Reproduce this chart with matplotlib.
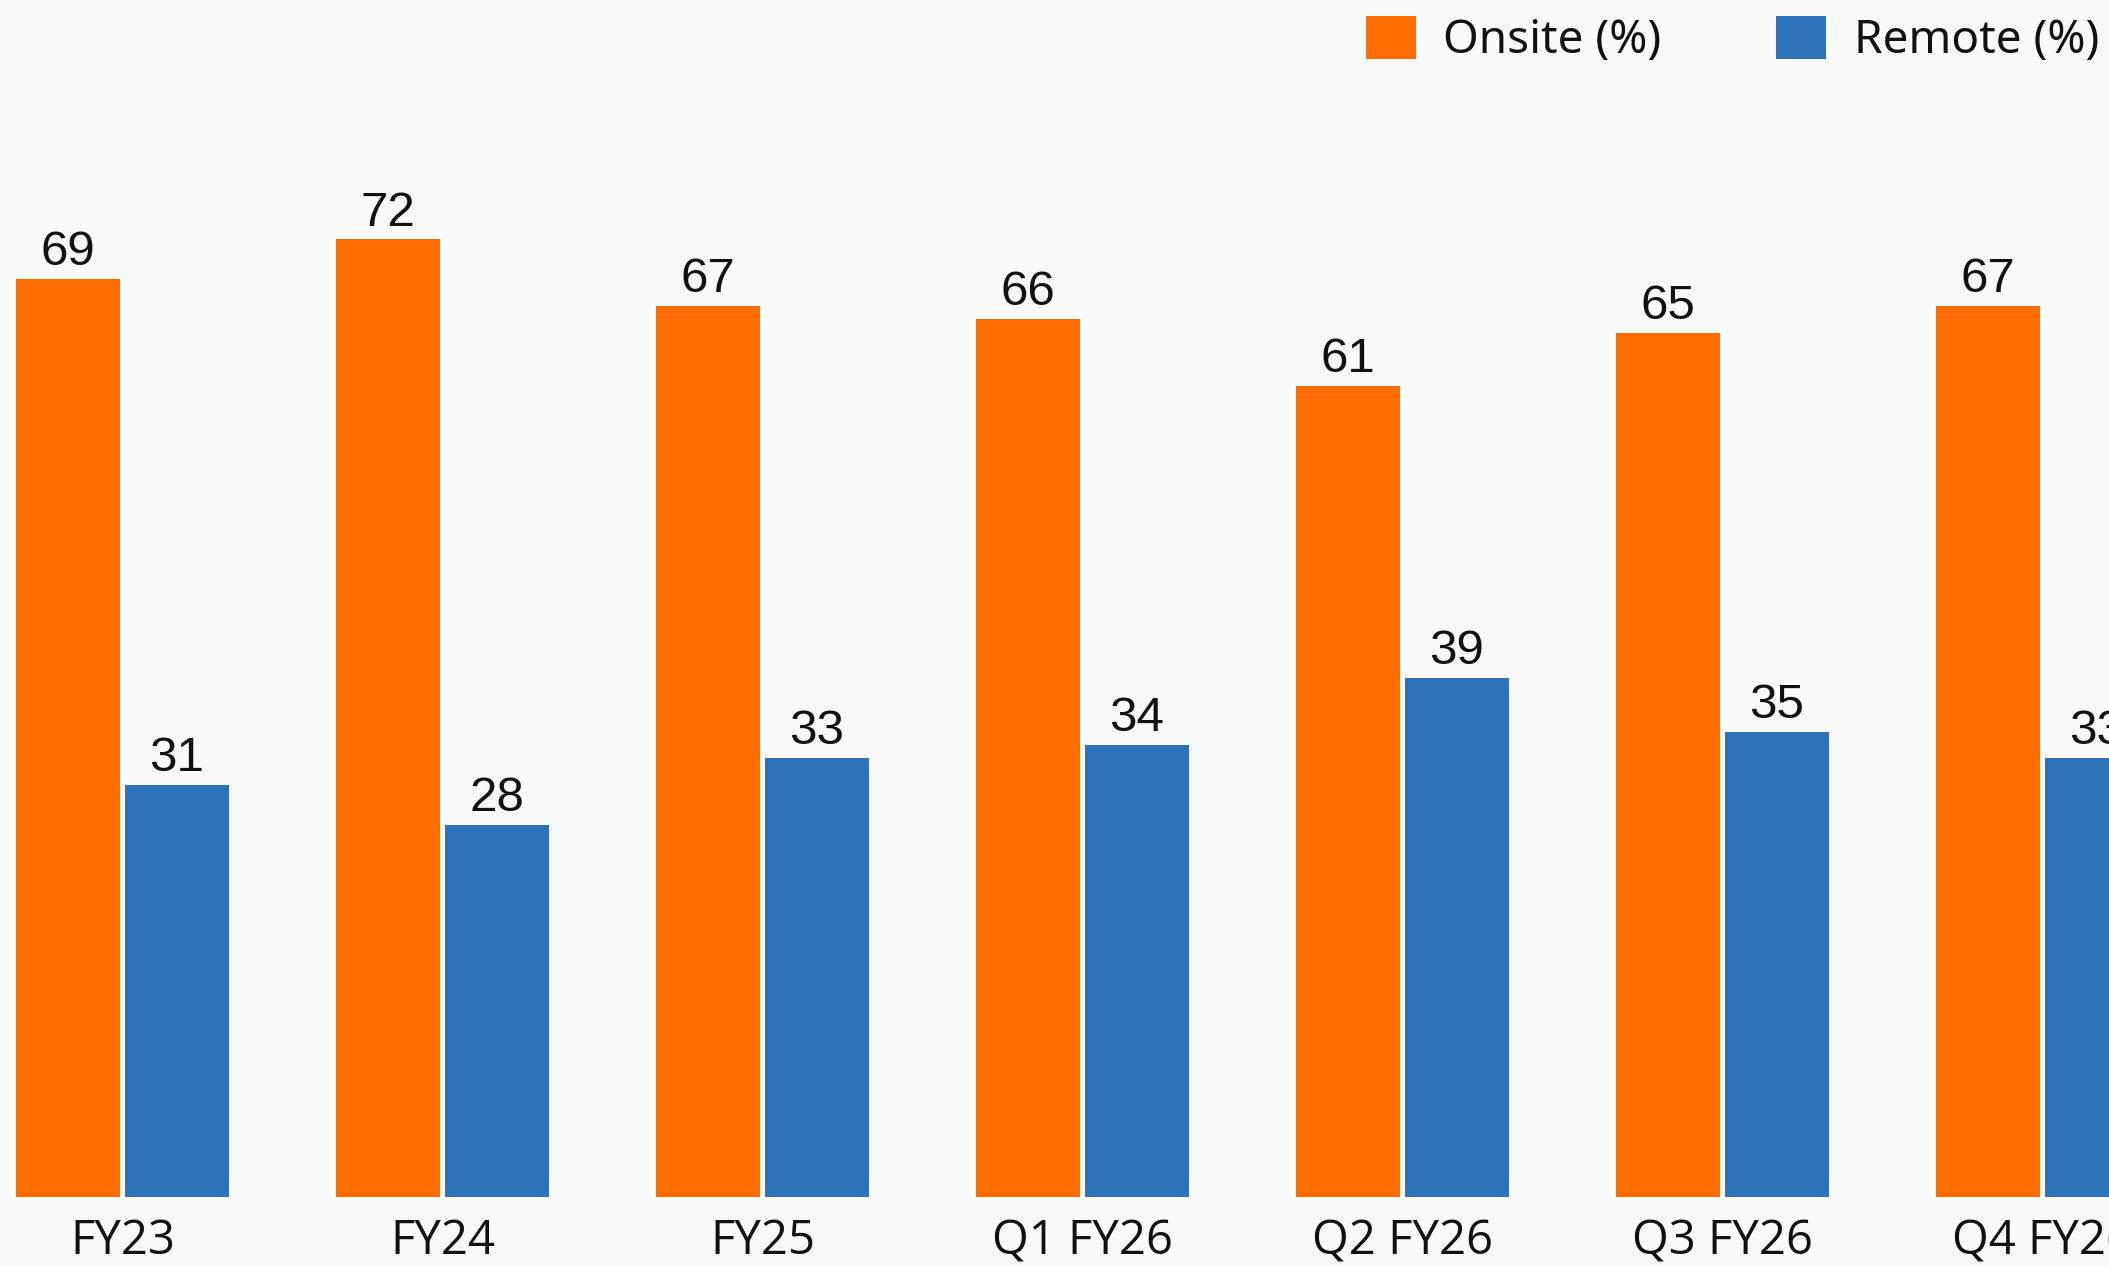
import matplotlib
matplotlib.use("Agg")
import matplotlib.pyplot as plt
import numpy as np
from matplotlib.patches import Patch

categories = ["FY23", "FY24", "FY25", "Q1 FY26", "Q2 FY26", "Q3 FY26", "Q4 FY26"]
onsite = [69, 72, 67, 66, 61, 65, 67]
remote = [31, 28, 33, 34, 39, 35, 33]
series_names = ["Onsite (%)", "Remote (%)"]

ORANGE = "#FF6D00"
BLUE = "#2E73BA"

W, H, DPI = 2109, 1266, 100
fig = plt.figure(figsize=(W / DPI, H / DPI), dpi=DPI)
fig.patch.set_facecolor("#FAFAFA")

base_px = 1197
ax = fig.add_axes([0, (H - base_px) / H, 1, base_px / H])
ax.set_facecolor("none")

x = np.arange(len(categories))
off = 0.17
bw = 0.323
b1 = ax.bar(x - off, onsite, width=bw, color=ORANGE, zorder=3)
b2 = ax.bar(x + off, remote, width=bw + 0.003, color=BLUE, zorder=3)

for bars, vals in ((b1, onsite), (b2, remote)):
    for rect, v in zip(bars, vals):
        ax.annotate(f"{v}", (rect.get_x() + rect.get_width() / 2, v),
                    xytext=(0, 10), textcoords="offset points",
                    ha="center", va="baseline", fontsize=35.5,
                    family="Liberation Sans", color="#111111")

ax.set_xlim(-122.5 / 320, (W - 122.5) / 320)
ax.set_ylim(0, base_px / 13.3)
ax.set_xticks(x)
ax.set_xticklabels(categories, fontsize=34, family="Open Sans", color="#111111")
ax.tick_params(axis="x", length=0, pad=15)
ax.set_yticks([])
for s in ax.spines.values():
    s.set_visible(False)

handles = [Patch(facecolor=ORANGE, edgecolor="none"), Patch(facecolor=BLUE, edgecolor="none")]
leg = ax.legend(handles, series_names, ncol=2, frameon=False,
                loc="upper right", bbox_to_anchor=(1.0 - 10 / W, 1.0 - 16 / base_px),
                borderaxespad=0, borderpad=0,
                prop={"family": "Noto Sans", "size": 33},
                handlelength=1.09, handleheight=1.06, handletextpad=0.6,
                columnspacing=2.5)
for t in leg.get_texts():
    t.set_color("#111111")

fig.savefig("out.png", dpi=DPI, facecolor=fig.get_facecolor())
